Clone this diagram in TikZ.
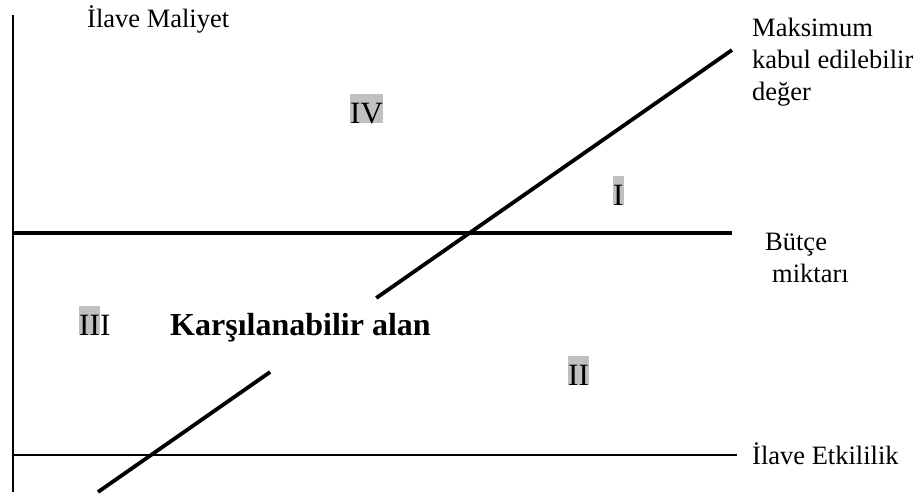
\documentclass[tikz,border=0pt]{standalone}
\usepackage{fontspec}
\setmainfont{Liberation Serif}
\usetikzlibrary{calc}
\definecolor{resalte}{HTML}{C0C0C0}
\begin{document}
\begin{tikzpicture}[x=1pt,y=-1pt,
  texto/.style={font=\fontsize{26.5}{32}\selectfont,inner sep=0pt,anchor=base west,align=left},
  romano/.style={font=\fontsize{31}{36}\selectfont,inner sep=0pt,anchor=base west,fill=resalte,text height=29pt,text depth=0pt},
  eje/.style={line width=2.4pt,black},
  linea/.style={line width=3.8pt,black}]
\useasboundingbox (0,0) rectangle (922,496);
% ejes y rectas
\coordinate (ejeSup) at (13,15);
\coordinate (ejeInf) at (13,492);
\coordinate (butIzq) at (13,233);
\coordinate (butDer) at (732,233);
\coordinate (etkIzq) at (13,455);
\coordinate (etkDer) at (737,455);
\coordinate (maxInf) at (98,492);
\coordinate (maxSup) at (732,50);
\coordinate (corteA) at ($(maxInf)!0.2715!(maxSup)$);
\coordinate (corteB) at ($(maxInf)!0.4389!(maxSup)$);
\draw[eje] (ejeSup) -- (ejeInf);
\draw[linea] (butIzq) -- (butDer);
\draw[eje] (etkIzq) -- (etkDer);
\draw[linea] (maxInf) -- (corteA);
\draw[linea] (corteB) -- (maxSup);
% textos (base = ultima linea)
\node[texto] (costo) at (87,27) {İlave Maliyet};
\node[texto] (maximo) at (752,100) {Maksimum\\kabul edilebilir\\değer};
\node[texto] (butce) at (765,282) {Bütçe\\\hspace*{7pt}miktarı};
\node[texto] (etkili) at (752,464) {İlave Etkililik};
\node[font=\bfseries\fontsize{32}{38}\selectfont,inner sep=0pt,anchor=base west] (alan) at (170,335) {Karşılanabilir alan};
% bolgeler
\node[romano] (r4) at (350,123) {IV};
\node[romano] (r1) at (613,205) {I};
\node[romano] (r2) at (568,385) {II};
\node[romano] (r3) at (79,335) {II};
\node[romano,fill=none] (r3b) at (r3.base east) {I};
\end{tikzpicture}
\end{document}
